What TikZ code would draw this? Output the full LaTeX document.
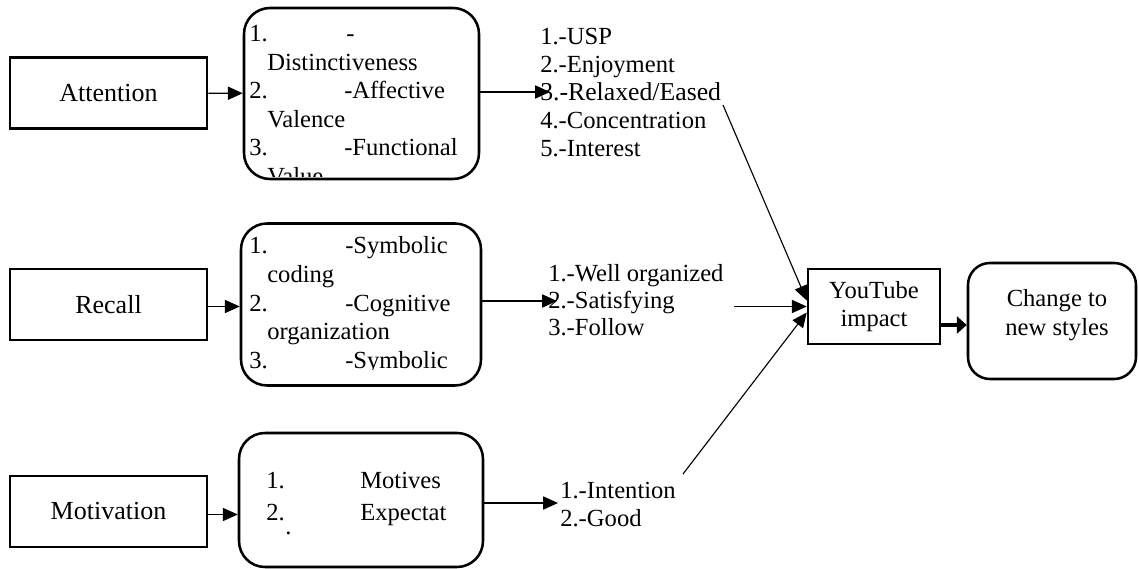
\documentclass[tikz,border=0pt]{standalone}
\usepackage{fontspec}
\setmainfont{Liberation Serif}
\usetikzlibrary{arrows.meta,positioning}
\newlength\px
\setlength\px{0.025cm}

\tikzset{
  plainbox/.style={draw, line width=1.8pt, inner sep=0pt, align=center},
  roundbox/.style={draw, line width=1.8pt, rounded corners=18.5pt, inner sep=0pt},
  txt/.style={font=\fontsize{17.5}{20.3}\selectfont, inner sep=0pt},
  arr/.style={line width=0.8pt, -{Triangle[length=10.5pt,width=9.3pt]}},
  bigarr/.style={line width=3.5pt, -{Triangle[length=7pt,width=12pt]}}
}

\begin{document}
\begin{tikzpicture}[x=0.025cm,y=-0.025cm]
        \useasboundingbox (0,0) rectangle (1139,569);
        % Stages
        \foreach \name/\label/\y in {att/Attention/93, rec/Recall/304.5, mot/Motivation/511.5}
            \node[plainbox, txt, font=\fontsize{18.5}{21}\selectfont, minimum width=197\px, minimum height=71\px] (\name) at (108.5,\y) {\label};
        % Detail boxes
        \node[roundbox, minimum width=235\px, minimum height=171\px] (attdet) at (361.5,93.5) {};
        \node[roundbox, minimum width=240\px, minimum height=162\px] (recdet) at (361,304.5) {};
        \node[roundbox, minimum width=244\px, minimum height=134\px] (motdet) at (361,500) {};
        \begin{scope}
            \clip (244,8) rectangle (479,177);
            \node[txt, anchor=base west] (attitems) at (249,41.5) {\begin{tabular}[t]{@{}l@{}}
                \makebox[97\px][l]{1.}-\\
                \hspace*{18\px}Distinctiveness\\
                \makebox[95\px][l]{2.}-Affective\\
                \hspace*{18\px}Valence\\
                \makebox[95\px][l]{3.}-Functional\\
                \hspace*{18\px}Value
            \end{tabular}};
        \end{scope}
        \begin{scope}
            \clip (241,224) rectangle (481,370);
            \node[txt, anchor=base west] (recitems) at (249,254) {\begin{tabular}[t]{@{}l@{}}
                \makebox[96\px][l]{1.}-Symbolic\\
                \hspace*{18\px}coding\\
                \makebox[96\px][l]{2.}-Cognitive\\
                \hspace*{18\px}organization\\
                \makebox[96\px][l]{3.}-Symbolic
            \end{tabular}};
        \end{scope}
        \node[txt, anchor=base west] (motitems) at (266,489) {\begin{tabular}[t]{@{}l@{}}
            \makebox[94\px][l]{1.}Motives\\[2pt]
            \makebox[94\px][l]{2.}Expectat
        \end{tabular}};
        \node[txt, anchor=base west] (motdot) at (285,535) {.};
        % Arrows into the detail boxes
        \draw[arr] (att) -- (attdet);
        \draw[arr] ([yshift=-2\px]rec.east) -- ([yshift=-2\px]rec.east -| recdet.west);
        \draw[arr] ([yshift=-3\px]mot.east) -- ([yshift=-3\px]mot.east -| motdet.west);
        % Outcome lists
        \foreach \t [count=\i] in {1.-USP, 2.-Enjoyment, {\fontsize{18.3}{20.3}\selectfont 3.-Relaxed/Eased}, 4.-Concentration, 5.-Interest}
            \node[txt, anchor=base west] (a\i) at (540,17+28*\i) {\t};
        \foreach \t [count=\i] in {1.-Well organized, 2.-Satisfying, 3.-Follow}
            \node[txt, anchor=base west] (r\i) at (548,255+27*\i) {\t};
        \foreach \t [count=\i] in {1.-Intention, 2.-Good}
            \node[txt, anchor=base west] (m\i) at (560,471+28*\i) {\t};
        \coordinate (atttip) at (550,92);
        \coordinate (rectip) at (557,301);
        \coordinate (mottip) at (558,503);
        \draw[arr] (attdet.east |- atttip) -- (atttip);
        \draw[arr] (recdet.east |- rectip) -- (rectip);
        \draw[arr] (motdet.east |- mottip) -- (mottip);
        % Impact
        \node[plainbox, txt, minimum width=132\px, minimum height=75\px] (yt) at (874,306.5) {YouTube\\impact};
        \node[roundbox, rounded corners=15.6pt, minimum width=168\px, minimum height=116\px] (chg) at (1052,321) {};
        \node[txt, align=center] (chgtxt) at (1057,315) {Change to\\new styles};
        \coordinate (attend) at (723,105);
        \coordinate (recend) at (734,306.5);
        \coordinate (motend) at (683,474);
        \draw[arr] (attend) -- ([yshift=6\px]yt.west);
        \draw[arr] (recend) -- (yt.west);
        \draw[arr] (motend) -- ([yshift=-6\px]yt.west);
        \coordinate (ytout) at ([yshift=-18.5\px]yt.east);
        \draw[bigarr] (ytout) -- (ytout -| chg.west);
    \end{tikzpicture}
\end{document}
